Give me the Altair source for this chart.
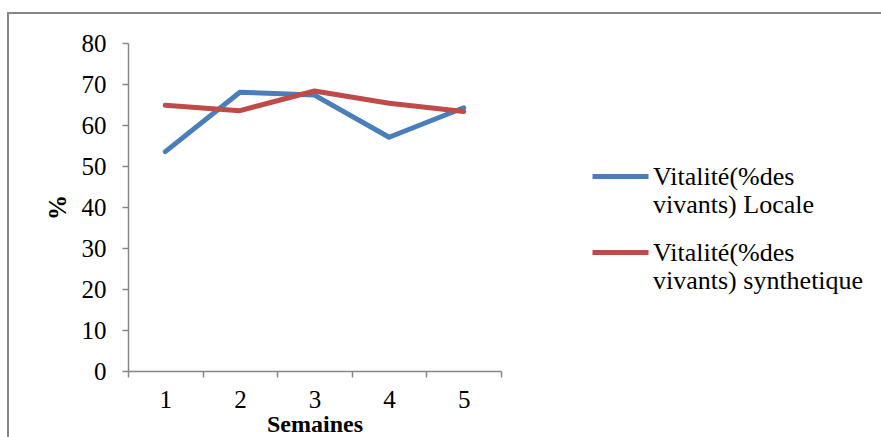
import altair as alt
import pandas as pd

weeks = [1, 2, 3, 4, 5]
locale = [53.5, 68.0, 67.3, 57.0, 64.2]
synth = [64.8, 63.5, 68.3, 65.3, 63.3]
series_names = ["Vitalité(%des vivants) Locale", "Vitalité(%des vivants) synthetique"]
series_colors = ["#4A7EBB", "#BE4B48"]

rows = []
for name, vals in zip(series_names, [locale, synth]):
    for w, v in zip(weeks, vals):
        rows.append({"Semaine": w, "valeur": v, "serie": name})
df = pd.DataFrame(rows)

FONT = "'Liberation Serif', 'Times New Roman', 'DejaVu Serif', serif"
AX = "#868686"

lines = alt.Chart(df).mark_line(strokeWidth=5, strokeCap="round", strokeJoin="round").encode(
    x=alt.X("Semaine:O", bandPosition=0.5,
            scale=alt.Scale(type="band", paddingInner=0, paddingOuter=0),
            axis=alt.Axis(title="Semaines", tickBand="extent", labelAngle=0,
                          labelFont=FONT, labelFontSize=25, labelColor="black",
                          labelPadding=10, tickSize=6, tickColor=AX, domainColor=AX,
                          tickWidth=1.5, domainWidth=1.5,
                          titleFont=FONT, titleFontSize=24, titleFontWeight="bold",
                          titleColor="black", titlePadding=0)),
    y=alt.Y("valeur:Q",
            scale=alt.Scale(domain=[0, 80], nice=False, zero=True),
            axis=alt.Axis(title="%", values=list(range(0, 81, 10)), grid=False,
                          labelFont=FONT, labelFontSize=25, labelColor="black",
                          labelPadding=16, tickSize=6, tickColor=AX, domainColor=AX,
                          tickWidth=1.5, domainWidth=1.5,
                          titleFont=FONT, titleFontSize=25, titleFontWeight="bold",
                          titleColor="black", titleAngle=-90, titleX=-71, titleY=164,
                          titleAlign="center", titleBaseline="middle")),
    color=alt.Color("serie:N",
                    scale=alt.Scale(domain=series_names, range=series_colors),
                    legend=alt.Legend(title=None, orient="none", legendX=462, legendY=103,
                                      symbolType="stroke", symbolSize=3136,
                                      symbolStrokeWidth=5, labelFont=FONT,
                                      labelFontSize=26, labelColor="black",
                                      labelLimit=0, labelOffset=2, rowPadding=4,
                                      labelExpr="[slice(datum.label, 0, 13), slice(datum.label, 14)]")),
)

border = alt.Chart(df).mark_rect(fill=None, stroke=AX, strokeWidth=1.5).encode(
    x=alt.value(-120), x2=alt.value(770), y=alt.value(-30), y2=alt.value(410)
)

chart = alt.layer(border, lines).properties(
    width=373, height=328,
    autosize=alt.AutoSizeParams(type="none"),
    padding={"left": 128, "top": 43, "right": 380, "bottom": 66},
    background="white",
).configure_view(stroke=None)

chart.save("out.html", embed_options={"renderer": "svg", "actions": False})
